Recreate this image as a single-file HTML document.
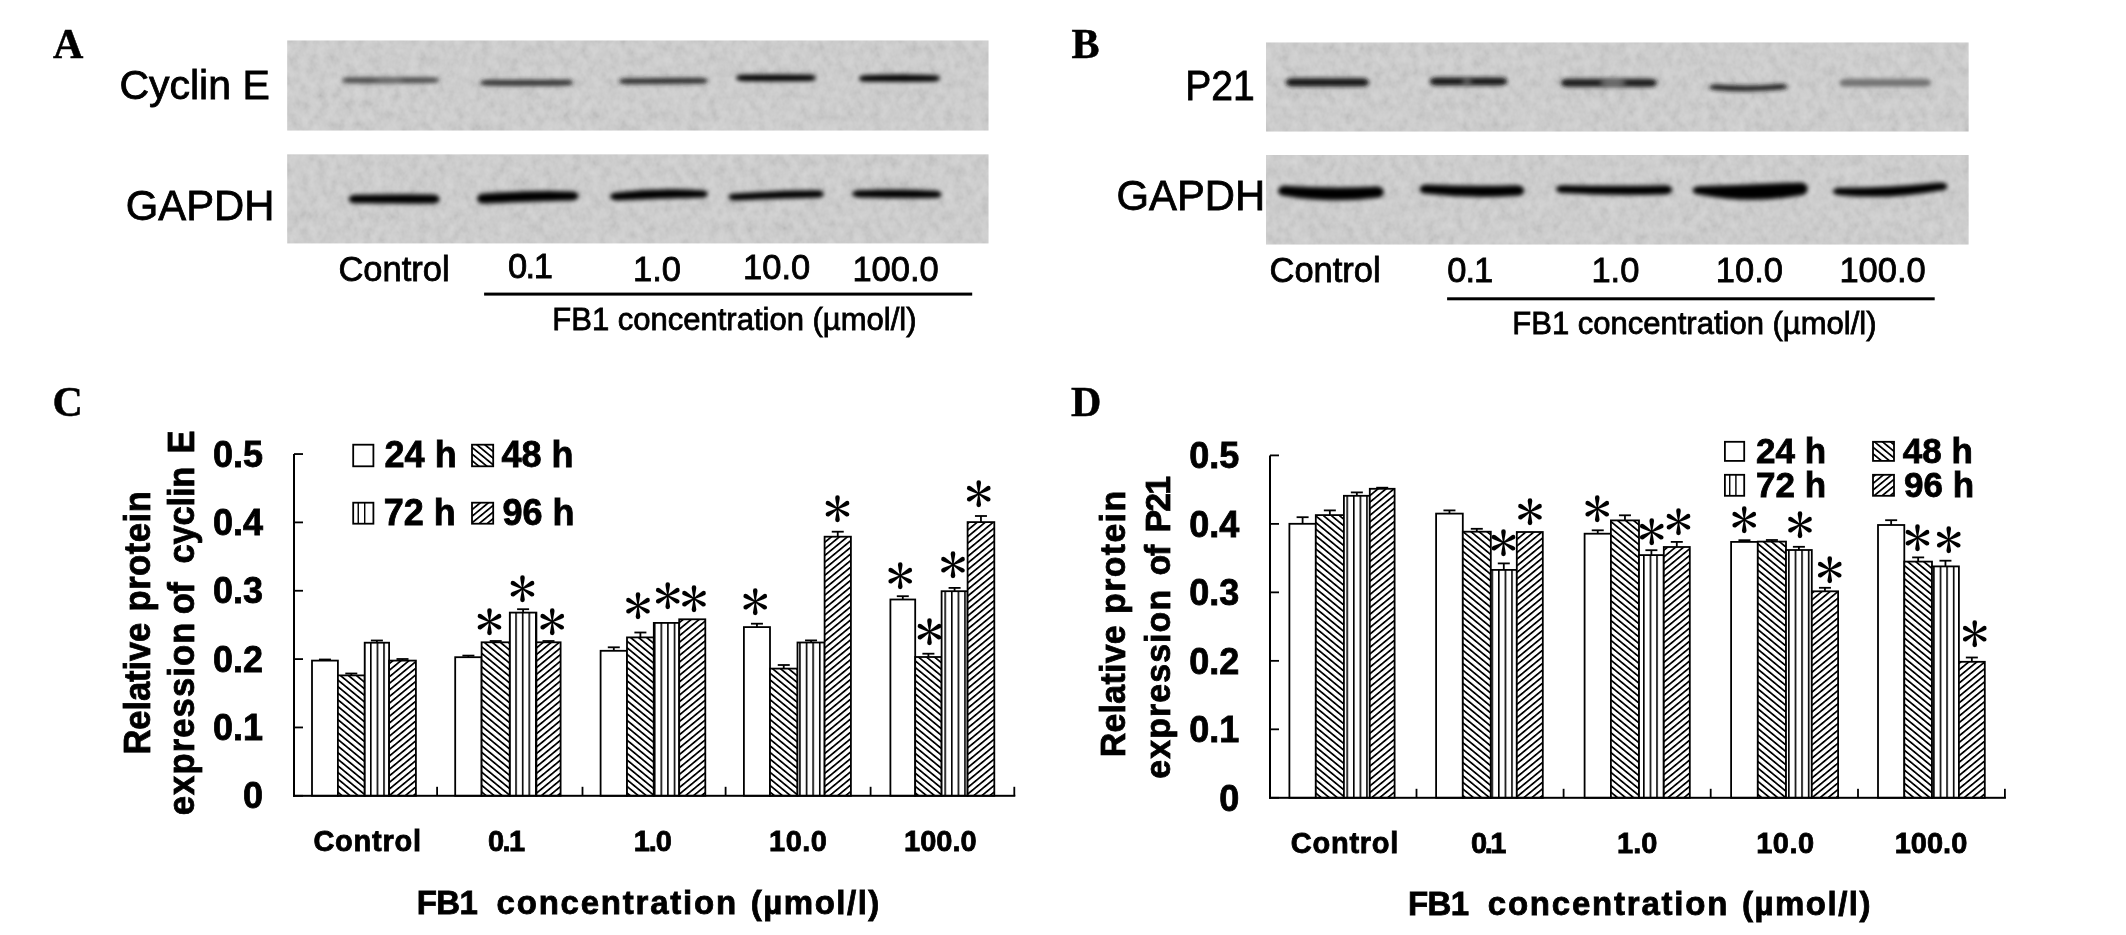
<!DOCTYPE html><html><head><meta charset="utf-8"><title>FB1 Cyclin E / P21</title>
<style>html,body{margin:0;padding:0;background:#fff;overflow:hidden;width:2126px;height:935px}svg{display:block;filter:grayscale(1)}.s{font-family:"Liberation Sans",Arial,sans-serif;stroke:#000;stroke-width:0.8px}.b{font-family:"Liberation Sans",Arial,sans-serif;font-weight:bold;stroke:#000;stroke-width:0.8px}.L{font-family:"Liberation Serif","Times New Roman",serif;font-weight:bold;font-size:42px;stroke:#000;stroke-width:0.5px}.ast{font-family:"Liberation Sans","IPAGothic",sans-serif;font-size:40px}</style></head><body>
<svg width="2126" height="935" viewBox="0 0 2126 935">
<defs>
<pattern id="pb" patternUnits="userSpaceOnUse" width="5.093" height="20" patternTransform="rotate(-50.5)"><rect x="0" y="0" width="1.75" height="20" fill="#000"/></pattern>
<pattern id="pf" patternUnits="userSpaceOnUse" width="5.093" height="20" patternTransform="rotate(50.5)"><rect x="0" y="0" width="1.75" height="20" fill="#000"/></pattern>
<pattern id="pvC" patternUnits="userSpaceOnUse" x="0.3" y="0" width="6.602" height="10"><rect x="0" y="0" width="1.6" height="10" fill="#000"/></pattern>
<pattern id="pvD" patternUnits="userSpaceOnUse" x="1.63" y="0" width="6.592" height="10"><rect x="0" y="0" width="1.6" height="10" fill="#000"/></pattern>
<filter id="bl" x="-20%" y="-100%" width="140%" height="300%"><feGaussianBlur stdDeviation="1.9"/></filter>
<filter id="bl2" x="-100%" y="-150%" width="300%" height="400%"><feGaussianBlur stdDeviation="2.5"/></filter>
<filter id="nz" x="0" y="0" width="100%" height="100%"><feTurbulence type="fractalNoise" baseFrequency="0.11 0.09" numOctaves="3" seed="7" result="t"/><feColorMatrix in="t" type="matrix" values="1 0 0 0 0  1 0 0 0 0  1 0 0 0 0  0 0 0 0 1" result="n"/><feComposite in="n" in2="SourceGraphic" operator="in"/></filter>
</defs>
<rect x="0" y="0" width="2126" height="935" fill="#fff"/>
<text class="L" x="53" y="58">A</text>
<text class="L" x="1071.4" y="58">B</text>
<text class="L" x="52.4" y="416">C</text>
<text class="L" x="1071" y="416">D</text>
<rect x="287.2" y="40.5" width="701.3" height="90.0" fill="#d0d0d0"/>
<rect x="287.2" y="40.5" width="701.3" height="90.0" fill="#000" filter="url(#nz)" opacity="0.16"/>
<path d="M349.0,77.6 Q390.5,77.2 432.0,77.6 A7,2.60 0 0 1 432.0,82.8 Q390.5,83.5 349.0,83.0 A7,2.70 0 0 1 349.0,77.6Z" fill="#444" filter="url(#bl)"/>
<path d="M487.0,80.0 Q526.5,79.8 566.0,80.0 A7,2.70 0 0 1 566.0,85.4 Q526.5,86.1 487.0,85.6 A7,2.80 0 0 1 487.0,80.0Z" fill="#2c2c2c" filter="url(#bl)"/>
<path d="M626.0,78.4 Q663.5,77.8 701.0,78.0 A7,2.80 0 0 1 701.0,83.6 Q663.5,84.2 626.0,84.0 A7,2.80 0 0 1 626.0,78.4Z" fill="#282828" filter="url(#bl)"/>
<path d="M743.0,74.8 Q776.0,74.4 809.0,74.8 A7,3.10 0 0 1 809.0,81.0 Q776.0,81.4 743.0,81.0 A7,3.10 0 0 1 743.0,74.8Z" fill="#000" filter="url(#bl)"/>
<path d="M866.0,75.2 Q899.5,74.0 933.0,75.2 A7,3.10 0 0 1 933.0,81.4 Q899.5,81.9 866.0,81.6 A7,3.20 0 0 1 866.0,75.2Z" fill="#000" filter="url(#bl)"/>
<rect x="287.2" y="154.4" width="701.3" height="89.0" fill="#d0d0d0"/>
<rect x="287.2" y="154.4" width="701.3" height="89.0" fill="#000" filter="url(#nz)" opacity="0.16"/>
<path d="M355.6,194.8 Q394.1,194.1 432.7,194.5 A7,4.55 0 0 1 432.7,203.6 Q394.1,203.8 355.6,203.2 A7,4.20 0 0 1 355.6,194.8Z" fill="#000" filter="url(#bl)"/>
<path d="M484.0,193.6 Q527.8,190.3 571.5,191.4 A7,4.60 0 0 1 571.5,200.6 Q527.8,201.5 484.0,203.6 A7,5.00 0 0 1 484.0,193.6Z" fill="#000" filter="url(#bl)"/>
<path d="M617.0,192.6 Q658.9,187.6 700.8,190.2 A7,3.80 0 0 1 700.8,197.8 Q658.9,198.5 617.0,200.4 A7,3.90 0 0 1 617.0,192.6Z" fill="#000" filter="url(#bl)"/>
<path d="M735.4,193.5 Q776.1,190.5 816.9,190.2 A7,3.80 0 0 1 816.9,197.8 Q776.1,198.5 735.4,200.4 A7,3.45 0 0 1 735.4,193.5Z" fill="#000" filter="url(#bl)"/>
<path d="M859.0,190.2 Q896.8,188.3 934.6,190.8 A7,3.60 0 0 1 934.6,198.0 Q896.8,198.5 859.0,197.4 A7,3.60 0 0 1 859.0,190.2Z" fill="#000" filter="url(#bl)"/>
<rect x="1266" y="42.5" width="702.6" height="89.0" fill="#d0d0d0"/>
<rect x="1266" y="42.5" width="702.6" height="89.0" fill="#000" filter="url(#nz)" opacity="0.16"/>
<path d="M1292.5,78.3 Q1327.2,78.3 1362.0,78.3 A7,4.10 0 0 1 1362.0,86.5 Q1327.2,86.5 1292.5,86.5 A7,4.10 0 0 1 1292.5,78.3Z" fill="#151515" filter="url(#bl)"/>
<path d="M1436.5,77.6 Q1468.5,77.6 1500.5,77.6 A7,3.90 0 0 1 1500.5,85.4 Q1468.5,85.4 1436.5,85.4 A7,3.90 0 0 1 1436.5,77.6Z" fill="#161616" filter="url(#bl)"/>
<path d="M1567.7,78.7 Q1608.8,78.7 1650.0,78.7 A7,4.10 0 0 1 1650.0,86.9 Q1608.8,86.9 1567.7,86.9 A7,4.10 0 0 1 1567.7,78.7Z" fill="#1a1a1a" filter="url(#bl)"/>
<path d="M1716.0,84.6 Q1748.4,87.0 1780.8,84.1 A7,2.65 0 0 1 1780.8,89.4 Q1748.4,92.7 1716.0,90.0 A7,2.70 0 0 1 1716.0,84.6Z" fill="#1a1a1a" filter="url(#bl)"/>
<path d="M1846.2,79.0 Q1885.2,79.0 1924.3,79.0 A7,3.80 0 0 1 1924.3,86.6 Q1885.2,86.6 1846.2,86.6 A7,3.80 0 0 1 1846.2,79.0Z" fill="#707070" filter="url(#bl)"/>
<ellipse cx="1467" cy="81.5" rx="5" ry="4" fill="#d0d0d0" opacity="0.35" filter="url(#bl2)"/>
<ellipse cx="1613" cy="82.8" rx="13" ry="4" fill="#d0d0d0" opacity="0.45" filter="url(#bl2)"/>
<ellipse cx="390" cy="80.3" rx="14" ry="4" fill="#d0d0d0" opacity="0.2" filter="url(#bl2)"/>
<rect x="1266" y="155" width="702.6" height="89.5" fill="#d0d0d0"/>
<rect x="1266" y="155" width="702.6" height="89.5" fill="#000" filter="url(#nz)" opacity="0.16"/>
<path d="M1285.0,185.8 Q1330.9,188.9 1376.8,186.4 A7,5.70 0 0 1 1376.8,197.8 Q1330.9,203.7 1285.0,196.0 A7,5.10 0 0 1 1285.0,185.8Z" fill="#000" filter="url(#bl)"/>
<path d="M1426.5,184.5 Q1471.9,186.7 1517.3,185.2 A7,5.25 0 0 1 1517.3,195.7 Q1471.9,199.1 1426.5,193.8 A7,4.65 0 0 1 1426.5,184.5Z" fill="#000" filter="url(#bl)"/>
<path d="M1563.0,185.2 Q1614.2,186.4 1665.3,185.2 A7,4.60 0 0 1 1665.3,194.4 Q1614.2,196.2 1563.0,193.1 A7,3.95 0 0 1 1563.0,185.2Z" fill="#000" filter="url(#bl)"/>
<path d="M1699.5,186.3 Q1750.1,184.4 1800.7,182.4 A7,6.40 0 0 1 1800.7,195.2 Q1750.1,204.8 1699.5,194.5 A7,4.10 0 0 1 1699.5,186.3Z" fill="#000" filter="url(#bl)"/>
<path d="M1839.8,187.7 Q1890.1,187.5 1940.4,182.4 A7,4.10 0 0 1 1940.4,190.6 Q1890.1,200.1 1839.8,195.2 A7,3.75 0 0 1 1839.8,187.7Z" fill="#000" filter="url(#bl)"/>
<text class="s" font-size="41" x="119.4" y="99">Cyclin E</text>
<text class="s" font-size="41.8" x="125.8" y="219.5">GAPDH</text>
<text class="s" font-size="42.3" transform="translate(1185.2,99.5) scale(0.925,1)">P21</text>
<text class="s" font-size="41.8" x="1116.6" y="209.5">GAPDH</text>
<text class="s" font-size="34.5" x="338.4" y="280.9">Control</text>
<text class="s" font-size="34.5" x="507.9" y="277.7" letter-spacing="-1.5">0.1</text>
<text class="s" font-size="34.5" x="633.1" y="280.6">1.0</text>
<text class="s" font-size="34.5" x="743.1" y="278.9">10.0</text>
<text class="s" font-size="34.5" x="852.4" y="280.9">100.0</text>
<rect x="484.1" y="292.6" width="488.1" height="3" fill="#000"/>
<text class="s" font-size="31" x="552.3" y="330.1">FB1 concentration (µmol/l)</text>
<text class="s" font-size="34.5" x="1269.5" y="282.3">Control</text>
<text class="s" font-size="34.5" x="1447.3" y="282.3" letter-spacing="-1">0.1</text>
<text class="s" font-size="34.5" x="1591.4" y="282.3">1.0</text>
<text class="s" font-size="34.5" x="1715.8" y="282.3">10.0</text>
<text class="s" font-size="34.5" x="1839.4" y="282.3">100.0</text>
<rect x="1447.1" y="297.3" width="487.6" height="3" fill="#000"/>
<text class="s" font-size="31" x="1512.3" y="333.9">FB1 concentration (µmol/l)</text>
<rect x="312.00" y="660.60" width="25.90" height="135.20" fill="#fff"/>
<rect x="312.00" y="660.60" width="25.90" height="135.20" fill="none" stroke="#000" stroke-width="1.8"/>
<line x1="324.95" y1="660.60" x2="324.95" y2="659.50" stroke="#000" stroke-width="1.8"/>
<line x1="318.95" y1="659.50" x2="330.95" y2="659.50" stroke="#000" stroke-width="1.8"/>
<rect x="337.90" y="675.40" width="26.80" height="120.40" fill="#fff"/>
<rect x="337.90" y="675.40" width="26.80" height="120.40" fill="url(#pb)"/>
<rect x="337.90" y="675.40" width="26.80" height="120.40" fill="none" stroke="#000" stroke-width="1.8"/>
<line x1="351.30" y1="675.40" x2="351.30" y2="673.50" stroke="#000" stroke-width="1.8"/>
<line x1="345.30" y1="673.50" x2="357.30" y2="673.50" stroke="#000" stroke-width="1.8"/>
<rect x="364.70" y="642.70" width="24.40" height="153.10" fill="#fff"/>
<rect x="364.70" y="642.70" width="24.40" height="153.10" fill="url(#pvC)"/>
<rect x="364.70" y="642.70" width="24.40" height="153.10" fill="none" stroke="#000" stroke-width="1.8"/>
<line x1="376.90" y1="642.70" x2="376.90" y2="640.50" stroke="#000" stroke-width="1.8"/>
<line x1="370.90" y1="640.50" x2="382.90" y2="640.50" stroke="#000" stroke-width="1.8"/>
<rect x="389.10" y="660.60" width="26.80" height="135.20" fill="#fff"/>
<rect x="389.10" y="660.60" width="26.80" height="135.20" fill="url(#pf)"/>
<rect x="389.10" y="660.60" width="26.80" height="135.20" fill="none" stroke="#000" stroke-width="1.8"/>
<line x1="402.50" y1="660.60" x2="402.50" y2="659.00" stroke="#000" stroke-width="1.8"/>
<line x1="396.50" y1="659.00" x2="408.50" y2="659.00" stroke="#000" stroke-width="1.8"/>
<rect x="455.20" y="657.20" width="26.40" height="138.60" fill="#fff"/>
<rect x="455.20" y="657.20" width="26.40" height="138.60" fill="none" stroke="#000" stroke-width="1.8"/>
<line x1="468.40" y1="657.20" x2="468.40" y2="655.60" stroke="#000" stroke-width="1.8"/>
<line x1="462.40" y1="655.60" x2="474.40" y2="655.60" stroke="#000" stroke-width="1.8"/>
<rect x="481.60" y="642.30" width="28.20" height="153.50" fill="#fff"/>
<rect x="481.60" y="642.30" width="28.20" height="153.50" fill="url(#pb)"/>
<rect x="481.60" y="642.30" width="28.20" height="153.50" fill="none" stroke="#000" stroke-width="1.8"/>
<line x1="495.70" y1="642.30" x2="495.70" y2="641.00" stroke="#000" stroke-width="1.8"/>
<line x1="489.70" y1="641.00" x2="501.70" y2="641.00" stroke="#000" stroke-width="1.8"/>
<rect x="509.80" y="612.60" width="26.60" height="183.20" fill="#fff"/>
<rect x="509.80" y="612.60" width="26.60" height="183.20" fill="url(#pvC)"/>
<rect x="509.80" y="612.60" width="26.60" height="183.20" fill="none" stroke="#000" stroke-width="1.8"/>
<line x1="523.10" y1="612.60" x2="523.10" y2="609.20" stroke="#000" stroke-width="1.8"/>
<line x1="517.10" y1="609.20" x2="529.10" y2="609.20" stroke="#000" stroke-width="1.8"/>
<rect x="536.40" y="642.30" width="24.20" height="153.50" fill="#fff"/>
<rect x="536.40" y="642.30" width="24.20" height="153.50" fill="url(#pf)"/>
<rect x="536.40" y="642.30" width="24.20" height="153.50" fill="none" stroke="#000" stroke-width="1.8"/>
<line x1="548.50" y1="642.30" x2="548.50" y2="641.00" stroke="#000" stroke-width="1.8"/>
<line x1="542.50" y1="641.00" x2="554.50" y2="641.00" stroke="#000" stroke-width="1.8"/>
<rect x="600.60" y="650.80" width="26.40" height="145.00" fill="#fff"/>
<rect x="600.60" y="650.80" width="26.40" height="145.00" fill="none" stroke="#000" stroke-width="1.8"/>
<line x1="613.80" y1="650.80" x2="613.80" y2="647.30" stroke="#000" stroke-width="1.8"/>
<line x1="607.80" y1="647.30" x2="619.80" y2="647.30" stroke="#000" stroke-width="1.8"/>
<rect x="627.00" y="637.40" width="26.80" height="158.40" fill="#fff"/>
<rect x="627.00" y="637.40" width="26.80" height="158.40" fill="url(#pb)"/>
<rect x="627.00" y="637.40" width="26.80" height="158.40" fill="none" stroke="#000" stroke-width="1.8"/>
<line x1="640.40" y1="637.40" x2="640.40" y2="632.50" stroke="#000" stroke-width="1.8"/>
<line x1="634.40" y1="632.50" x2="646.40" y2="632.50" stroke="#000" stroke-width="1.8"/>
<rect x="653.80" y="622.90" width="25.40" height="172.90" fill="#fff"/>
<rect x="653.80" y="622.90" width="25.40" height="172.90" fill="url(#pvC)"/>
<rect x="653.80" y="622.90" width="25.40" height="172.90" fill="none" stroke="#000" stroke-width="1.8"/>
<rect x="679.20" y="619.30" width="26.10" height="176.50" fill="#fff"/>
<rect x="679.20" y="619.30" width="26.10" height="176.50" fill="url(#pf)"/>
<rect x="679.20" y="619.30" width="26.10" height="176.50" fill="none" stroke="#000" stroke-width="1.8"/>
<rect x="743.90" y="627.10" width="26.10" height="168.70" fill="#fff"/>
<rect x="743.90" y="627.10" width="26.10" height="168.70" fill="none" stroke="#000" stroke-width="1.8"/>
<line x1="756.95" y1="627.10" x2="756.95" y2="623.70" stroke="#000" stroke-width="1.8"/>
<line x1="750.95" y1="623.70" x2="762.95" y2="623.70" stroke="#000" stroke-width="1.8"/>
<rect x="770.00" y="668.60" width="27.50" height="127.20" fill="#fff"/>
<rect x="770.00" y="668.60" width="27.50" height="127.20" fill="url(#pb)"/>
<rect x="770.00" y="668.60" width="27.50" height="127.20" fill="none" stroke="#000" stroke-width="1.8"/>
<line x1="783.75" y1="668.60" x2="783.75" y2="665.00" stroke="#000" stroke-width="1.8"/>
<line x1="777.75" y1="665.00" x2="789.75" y2="665.00" stroke="#000" stroke-width="1.8"/>
<rect x="797.50" y="642.50" width="27.10" height="153.30" fill="#fff"/>
<rect x="797.50" y="642.50" width="27.10" height="153.30" fill="url(#pvC)"/>
<rect x="797.50" y="642.50" width="27.10" height="153.30" fill="none" stroke="#000" stroke-width="1.8"/>
<line x1="811.05" y1="642.50" x2="811.05" y2="640.40" stroke="#000" stroke-width="1.8"/>
<line x1="805.05" y1="640.40" x2="817.05" y2="640.40" stroke="#000" stroke-width="1.8"/>
<rect x="824.60" y="536.70" width="26.30" height="259.10" fill="#fff"/>
<rect x="824.60" y="536.70" width="26.30" height="259.10" fill="url(#pf)"/>
<rect x="824.60" y="536.70" width="26.30" height="259.10" fill="none" stroke="#000" stroke-width="1.8"/>
<line x1="837.75" y1="536.70" x2="837.75" y2="531.70" stroke="#000" stroke-width="1.8"/>
<line x1="831.75" y1="531.70" x2="843.75" y2="531.70" stroke="#000" stroke-width="1.8"/>
<rect x="890.40" y="599.50" width="24.80" height="196.30" fill="#fff"/>
<rect x="890.40" y="599.50" width="24.80" height="196.30" fill="none" stroke="#000" stroke-width="1.8"/>
<line x1="902.80" y1="599.50" x2="902.80" y2="596.20" stroke="#000" stroke-width="1.8"/>
<line x1="896.80" y1="596.20" x2="908.80" y2="596.20" stroke="#000" stroke-width="1.8"/>
<rect x="915.20" y="657.00" width="26.40" height="138.80" fill="#fff"/>
<rect x="915.20" y="657.00" width="26.40" height="138.80" fill="url(#pb)"/>
<rect x="915.20" y="657.00" width="26.40" height="138.80" fill="none" stroke="#000" stroke-width="1.8"/>
<line x1="928.40" y1="657.00" x2="928.40" y2="653.70" stroke="#000" stroke-width="1.8"/>
<line x1="922.40" y1="653.70" x2="934.40" y2="653.70" stroke="#000" stroke-width="1.8"/>
<rect x="941.60" y="591.20" width="26.00" height="204.60" fill="#fff"/>
<rect x="941.60" y="591.20" width="26.00" height="204.60" fill="url(#pvC)"/>
<rect x="941.60" y="591.20" width="26.00" height="204.60" fill="none" stroke="#000" stroke-width="1.8"/>
<line x1="954.60" y1="591.20" x2="954.60" y2="587.90" stroke="#000" stroke-width="1.8"/>
<line x1="948.60" y1="587.90" x2="960.60" y2="587.90" stroke="#000" stroke-width="1.8"/>
<rect x="967.60" y="522.10" width="26.70" height="273.70" fill="#fff"/>
<rect x="967.60" y="522.10" width="26.70" height="273.70" fill="url(#pf)"/>
<rect x="967.60" y="522.10" width="26.70" height="273.70" fill="none" stroke="#000" stroke-width="1.8"/>
<line x1="980.95" y1="522.10" x2="980.95" y2="516.00" stroke="#000" stroke-width="1.8"/>
<line x1="974.95" y1="516.00" x2="986.95" y2="516.00" stroke="#000" stroke-width="1.8"/>
<rect x="293" y="454" width="2" height="342.79999999999995" fill="#000"/>
<rect x="293" y="794.8" width="722.3" height="2" fill="#000"/>
<rect x="294" y="794.90" width="9" height="1.8" fill="#000"/>
<rect x="294" y="726.55" width="9" height="1.8" fill="#000"/>
<rect x="294" y="658.20" width="9" height="1.8" fill="#000"/>
<rect x="294" y="589.85" width="9" height="1.8" fill="#000"/>
<rect x="294" y="521.50" width="9" height="1.8" fill="#000"/>
<rect x="294" y="453.15" width="9" height="1.8" fill="#000"/>
<rect x="436.20" y="786.8" width="1.8" height="9" fill="#000"/>
<rect x="581.60" y="786.8" width="1.8" height="9" fill="#000"/>
<rect x="724.70" y="786.8" width="1.8" height="9" fill="#000"/>
<rect x="869.70" y="786.8" width="1.8" height="9" fill="#000"/>
<rect x="1013.40" y="786.8" width="1.8" height="9" fill="#000"/>
<text class="ast" x="469.4" y="637.1">＊</text>
<text class="ast" x="502.6" y="604.2">＊</text>
<text class="ast" x="532.3" y="637.1">＊</text>
<text class="ast" x="618.1" y="621.1">＊</text>
<text class="ast" x="647.7" y="610.8">＊</text>
<text class="ast" x="674.0" y="614.0">＊</text>
<text class="ast" x="735.3" y="617.4">＊</text>
<text class="ast" x="817.6" y="524.4">＊</text>
<text class="ast" x="880.2" y="591.0">＊</text>
<text class="ast" x="909.4" y="647.2">＊</text>
<text class="ast" x="933.0" y="579.8">＊</text>
<text class="ast" x="958.8" y="509.1">＊</text>
<rect x="1289.40" y="523.80" width="26.40" height="274.00" fill="#fff"/>
<rect x="1289.40" y="523.80" width="26.40" height="274.00" fill="none" stroke="#000" stroke-width="1.8"/>
<line x1="1302.60" y1="523.80" x2="1302.60" y2="517.20" stroke="#000" stroke-width="1.8"/>
<line x1="1296.60" y1="517.20" x2="1308.60" y2="517.20" stroke="#000" stroke-width="1.8"/>
<rect x="1315.80" y="515.10" width="28.10" height="282.70" fill="#fff"/>
<rect x="1315.80" y="515.10" width="28.10" height="282.70" fill="url(#pb)"/>
<rect x="1315.80" y="515.10" width="28.10" height="282.70" fill="none" stroke="#000" stroke-width="1.8"/>
<line x1="1329.85" y1="515.10" x2="1329.85" y2="510.40" stroke="#000" stroke-width="1.8"/>
<line x1="1323.85" y1="510.40" x2="1335.85" y2="510.40" stroke="#000" stroke-width="1.8"/>
<rect x="1343.90" y="495.80" width="25.90" height="302.00" fill="#fff"/>
<rect x="1343.90" y="495.80" width="25.90" height="302.00" fill="url(#pvD)"/>
<rect x="1343.90" y="495.80" width="25.90" height="302.00" fill="none" stroke="#000" stroke-width="1.8"/>
<line x1="1356.85" y1="495.80" x2="1356.85" y2="492.40" stroke="#000" stroke-width="1.8"/>
<line x1="1350.85" y1="492.40" x2="1362.85" y2="492.40" stroke="#000" stroke-width="1.8"/>
<rect x="1369.80" y="488.80" width="24.80" height="309.00" fill="#fff"/>
<rect x="1369.80" y="488.80" width="24.80" height="309.00" fill="url(#pf)"/>
<rect x="1369.80" y="488.80" width="24.80" height="309.00" fill="none" stroke="#000" stroke-width="1.8"/>
<line x1="1382.20" y1="488.80" x2="1382.20" y2="487.70" stroke="#000" stroke-width="1.8"/>
<line x1="1376.20" y1="487.70" x2="1388.20" y2="487.70" stroke="#000" stroke-width="1.8"/>
<rect x="1436.10" y="513.60" width="26.70" height="284.20" fill="#fff"/>
<rect x="1436.10" y="513.60" width="26.70" height="284.20" fill="none" stroke="#000" stroke-width="1.8"/>
<line x1="1449.45" y1="513.60" x2="1449.45" y2="510.40" stroke="#000" stroke-width="1.8"/>
<line x1="1443.45" y1="510.40" x2="1455.45" y2="510.40" stroke="#000" stroke-width="1.8"/>
<rect x="1462.80" y="531.70" width="28.00" height="266.10" fill="#fff"/>
<rect x="1462.80" y="531.70" width="28.00" height="266.10" fill="url(#pb)"/>
<rect x="1462.80" y="531.70" width="28.00" height="266.10" fill="none" stroke="#000" stroke-width="1.8"/>
<line x1="1476.80" y1="531.70" x2="1476.80" y2="528.80" stroke="#000" stroke-width="1.8"/>
<line x1="1470.80" y1="528.80" x2="1482.80" y2="528.80" stroke="#000" stroke-width="1.8"/>
<rect x="1490.80" y="569.90" width="26.00" height="227.90" fill="#fff"/>
<rect x="1490.80" y="569.90" width="26.00" height="227.90" fill="url(#pvD)"/>
<rect x="1490.80" y="569.90" width="26.00" height="227.90" fill="none" stroke="#000" stroke-width="1.8"/>
<line x1="1503.80" y1="569.90" x2="1503.80" y2="563.40" stroke="#000" stroke-width="1.8"/>
<line x1="1497.80" y1="563.40" x2="1509.80" y2="563.40" stroke="#000" stroke-width="1.8"/>
<rect x="1516.80" y="532.00" width="26.00" height="265.80" fill="#fff"/>
<rect x="1516.80" y="532.00" width="26.00" height="265.80" fill="url(#pf)"/>
<rect x="1516.80" y="532.00" width="26.00" height="265.80" fill="none" stroke="#000" stroke-width="1.8"/>
<rect x="1584.60" y="533.70" width="26.30" height="264.10" fill="#fff"/>
<rect x="1584.60" y="533.70" width="26.30" height="264.10" fill="none" stroke="#000" stroke-width="1.8"/>
<line x1="1597.75" y1="533.70" x2="1597.75" y2="530.30" stroke="#000" stroke-width="1.8"/>
<line x1="1591.75" y1="530.30" x2="1603.75" y2="530.30" stroke="#000" stroke-width="1.8"/>
<rect x="1610.90" y="520.40" width="28.10" height="277.40" fill="#fff"/>
<rect x="1610.90" y="520.40" width="28.10" height="277.40" fill="url(#pb)"/>
<rect x="1610.90" y="520.40" width="28.10" height="277.40" fill="none" stroke="#000" stroke-width="1.8"/>
<line x1="1624.95" y1="520.40" x2="1624.95" y2="515.30" stroke="#000" stroke-width="1.8"/>
<line x1="1618.95" y1="515.30" x2="1630.95" y2="515.30" stroke="#000" stroke-width="1.8"/>
<rect x="1639.00" y="555.10" width="24.80" height="242.70" fill="#fff"/>
<rect x="1639.00" y="555.10" width="24.80" height="242.70" fill="url(#pvD)"/>
<rect x="1639.00" y="555.10" width="24.80" height="242.70" fill="none" stroke="#000" stroke-width="1.8"/>
<line x1="1651.40" y1="555.10" x2="1651.40" y2="550.20" stroke="#000" stroke-width="1.8"/>
<line x1="1645.40" y1="550.20" x2="1657.40" y2="550.20" stroke="#000" stroke-width="1.8"/>
<rect x="1663.80" y="547.00" width="26.00" height="250.80" fill="#fff"/>
<rect x="1663.80" y="547.00" width="26.00" height="250.80" fill="url(#pf)"/>
<rect x="1663.80" y="547.00" width="26.00" height="250.80" fill="none" stroke="#000" stroke-width="1.8"/>
<line x1="1676.80" y1="547.00" x2="1676.80" y2="541.90" stroke="#000" stroke-width="1.8"/>
<line x1="1670.80" y1="541.90" x2="1682.80" y2="541.90" stroke="#000" stroke-width="1.8"/>
<rect x="1731.10" y="541.90" width="26.70" height="255.90" fill="#fff"/>
<rect x="1731.10" y="541.90" width="26.70" height="255.90" fill="none" stroke="#000" stroke-width="1.8"/>
<line x1="1744.45" y1="541.90" x2="1744.45" y2="540.20" stroke="#000" stroke-width="1.8"/>
<line x1="1738.45" y1="540.20" x2="1750.45" y2="540.20" stroke="#000" stroke-width="1.8"/>
<rect x="1757.80" y="541.60" width="28.20" height="256.20" fill="#fff"/>
<rect x="1757.80" y="541.60" width="28.20" height="256.20" fill="url(#pb)"/>
<rect x="1757.80" y="541.60" width="28.20" height="256.20" fill="none" stroke="#000" stroke-width="1.8"/>
<line x1="1771.90" y1="541.60" x2="1771.90" y2="540.00" stroke="#000" stroke-width="1.8"/>
<line x1="1765.90" y1="540.00" x2="1777.90" y2="540.00" stroke="#000" stroke-width="1.8"/>
<rect x="1786.00" y="550.00" width="25.80" height="247.80" fill="#fff"/>
<rect x="1786.00" y="550.00" width="25.80" height="247.80" fill="url(#pvD)"/>
<rect x="1786.00" y="550.00" width="25.80" height="247.80" fill="none" stroke="#000" stroke-width="1.8"/>
<line x1="1798.90" y1="550.00" x2="1798.90" y2="546.80" stroke="#000" stroke-width="1.8"/>
<line x1="1792.90" y1="546.80" x2="1804.90" y2="546.80" stroke="#000" stroke-width="1.8"/>
<rect x="1811.80" y="591.30" width="26.30" height="206.50" fill="#fff"/>
<rect x="1811.80" y="591.30" width="26.30" height="206.50" fill="url(#pf)"/>
<rect x="1811.80" y="591.30" width="26.30" height="206.50" fill="none" stroke="#000" stroke-width="1.8"/>
<line x1="1824.95" y1="591.30" x2="1824.95" y2="587.80" stroke="#000" stroke-width="1.8"/>
<line x1="1818.95" y1="587.80" x2="1830.95" y2="587.80" stroke="#000" stroke-width="1.8"/>
<rect x="1878.00" y="525.00" width="26.30" height="272.80" fill="#fff"/>
<rect x="1878.00" y="525.00" width="26.30" height="272.80" fill="none" stroke="#000" stroke-width="1.8"/>
<line x1="1891.15" y1="525.00" x2="1891.15" y2="520.20" stroke="#000" stroke-width="1.8"/>
<line x1="1885.15" y1="520.20" x2="1897.15" y2="520.20" stroke="#000" stroke-width="1.8"/>
<rect x="1904.30" y="561.60" width="27.70" height="236.20" fill="#fff"/>
<rect x="1904.30" y="561.60" width="27.70" height="236.20" fill="url(#pb)"/>
<rect x="1904.30" y="561.60" width="27.70" height="236.20" fill="none" stroke="#000" stroke-width="1.8"/>
<line x1="1918.15" y1="561.60" x2="1918.15" y2="557.40" stroke="#000" stroke-width="1.8"/>
<line x1="1912.15" y1="557.40" x2="1924.15" y2="557.40" stroke="#000" stroke-width="1.8"/>
<rect x="1932.00" y="566.40" width="26.90" height="231.40" fill="#fff"/>
<rect x="1932.00" y="566.40" width="26.90" height="231.40" fill="url(#pvD)"/>
<rect x="1932.00" y="566.40" width="26.90" height="231.40" fill="none" stroke="#000" stroke-width="1.8"/>
<line x1="1945.45" y1="566.40" x2="1945.45" y2="560.70" stroke="#000" stroke-width="1.8"/>
<line x1="1939.45" y1="560.70" x2="1951.45" y2="560.70" stroke="#000" stroke-width="1.8"/>
<rect x="1958.90" y="661.80" width="25.90" height="136.00" fill="#fff"/>
<rect x="1958.90" y="661.80" width="25.90" height="136.00" fill="url(#pf)"/>
<rect x="1958.90" y="661.80" width="25.90" height="136.00" fill="none" stroke="#000" stroke-width="1.8"/>
<line x1="1971.85" y1="661.80" x2="1971.85" y2="657.50" stroke="#000" stroke-width="1.8"/>
<line x1="1965.85" y1="657.50" x2="1977.85" y2="657.50" stroke="#000" stroke-width="1.8"/>
<rect x="1269" y="455.5" width="2" height="343.29999999999995" fill="#000"/>
<rect x="1269" y="796.8" width="736.9000000000001" height="2" fill="#000"/>
<rect x="1270" y="796.90" width="9" height="1.8" fill="#000"/>
<rect x="1270" y="728.42" width="9" height="1.8" fill="#000"/>
<rect x="1270" y="659.94" width="9" height="1.8" fill="#000"/>
<rect x="1270" y="591.46" width="9" height="1.8" fill="#000"/>
<rect x="1270" y="522.98" width="9" height="1.8" fill="#000"/>
<rect x="1270" y="454.50" width="9" height="1.8" fill="#000"/>
<rect x="1415.60" y="788.8" width="1.8" height="9" fill="#000"/>
<rect x="1562.70" y="788.8" width="1.8" height="9" fill="#000"/>
<rect x="1709.80" y="788.8" width="1.8" height="9" fill="#000"/>
<rect x="1857.10" y="788.8" width="1.8" height="9" fill="#000"/>
<rect x="2004.00" y="788.8" width="1.8" height="9" fill="#000"/>
<text class="ast" x="1483.6" y="558.4">＊</text>
<text class="ast" x="1510.0" y="527.0">＊</text>
<text class="ast" x="1577.2" y="523.5">＊</text>
<text class="ast" x="1631.8" y="546.6">＊</text>
<text class="ast" x="1658.5" y="536.8">＊</text>
<text class="ast" x="1724.2" y="535.1">＊</text>
<text class="ast" x="1780.1" y="540.0">＊</text>
<text class="ast" x="1809.7" y="584.5">＊</text>
<text class="ast" x="1897.4" y="553.1">＊</text>
<text class="ast" x="1928.8" y="555.0">＊</text>
<text class="ast" x="1954.8" y="649.4">＊</text>
<text class="b" font-size="36" text-anchor="end" x="263" y="808.3">0</text>
<text class="b" font-size="36" text-anchor="end" x="1239.3" y="810.6">0</text>
<text class="b" font-size="36" text-anchor="end" x="263" y="739.9">0.1</text>
<text class="b" font-size="36" text-anchor="end" x="1239.3" y="742.1">0.1</text>
<text class="b" font-size="36" text-anchor="end" x="263" y="671.6">0.2</text>
<text class="b" font-size="36" text-anchor="end" x="1239.3" y="673.6">0.2</text>
<text class="b" font-size="36" text-anchor="end" x="263" y="603.2">0.3</text>
<text class="b" font-size="36" text-anchor="end" x="1239.3" y="605.2">0.3</text>
<text class="b" font-size="36" text-anchor="end" x="263" y="534.9">0.4</text>
<text class="b" font-size="36" text-anchor="end" x="1239.3" y="536.7">0.4</text>
<text class="b" font-size="36" text-anchor="end" x="263" y="466.5">0.5</text>
<text class="b" font-size="36" text-anchor="end" x="1239.3" y="468.2">0.5</text>
<text class="b" font-size="29" x="313.4" y="851" letter-spacing="0.75">Control</text>
<text class="b" font-size="29" x="487.9" y="851" letter-spacing="-1.5">0.1</text>
<text class="b" font-size="29" x="633.7" y="851" letter-spacing="-1">1.0</text>
<text class="b" font-size="29" x="769" y="851" letter-spacing="0.5">10.0</text>
<text class="b" font-size="29" x="904" y="851" letter-spacing="0">100.0</text>
<text class="b" font-size="29" x="1290.8" y="852.5" letter-spacing="0.75">Control</text>
<text class="b" font-size="29" x="1471" y="852.5" letter-spacing="-2.5">0.1</text>
<text class="b" font-size="29" x="1617" y="852.5" letter-spacing="0">1.0</text>
<text class="b" font-size="29" x="1756.2" y="852.5" letter-spacing="0.5">10.0</text>
<text class="b" font-size="29" x="1894.7" y="852.5" letter-spacing="0">100.0</text>
<text class="b" font-size="33" y="913.5"><tspan x="416.8" letter-spacing="-0.6">FB1</tspan> <tspan x="496.6" letter-spacing="1.78">concentration</tspan> <tspan x="750.8" letter-spacing="1.5">(µmol/l)</tspan></text>
<text class="b" font-size="33" y="914.7"><tspan x="1408" letter-spacing="-0.6">FB1</tspan> <tspan x="1487.8" letter-spacing="1.78">concentration</tspan> <tspan x="1742" letter-spacing="1.5">(µmol/l)</tspan></text>
<text class="b" font-size="36.8" transform="translate(149.7,753) rotate(-90) scale(0.94,1)"><tspan x="-1.60" letter-spacing="-0.12">Relative</tspan> <tspan x="150.53" letter-spacing="0.55">protein</tspan></text>
<text class="b" font-size="36.8" transform="translate(194,814.8) rotate(-90) scale(0.94,1)"><tspan x="-0.60" letter-spacing="1.21">expression</tspan> <tspan x="213.23" letter-spacing="-0.54">of</tspan> <tspan x="267.38" letter-spacing="-0.25">cyclin</tspan> <tspan x="384.36" letter-spacing="0.00">E</tspan></text>
<text class="b" font-size="36" transform="translate(1125.3,755.8) rotate(-90) scale(0.94,1)"><tspan x="-1.60" letter-spacing="0.34">Relative</tspan> <tspan x="150.95" letter-spacing="1.48">protein</tspan></text>
<text class="b" font-size="36" transform="translate(1169.6,778.2) rotate(-90) scale(0.94,1)"><tspan x="-0.60" letter-spacing="1.21">expression</tspan> <tspan x="215.57" letter-spacing="-1.25">of</tspan> <tspan x="261.38" letter-spacing="-1.96">P21</tspan></text>
<rect x="353.2" y="444.7" width="20.2" height="21.6" fill="#fff"/>
<rect x="353.2" y="444.7" width="20.2" height="21.6" fill="none" stroke="#000" stroke-width="1.8"/>
<rect x="472" y="444.7" width="21.2" height="21.6" fill="#fff"/>
<rect x="472" y="444.7" width="21.2" height="21.6" fill="url(#pb)"/>
<rect x="472" y="444.7" width="21.2" height="21.6" fill="none" stroke="#000" stroke-width="1.8"/>
<rect x="353.2" y="502.7" width="20.2" height="21" fill="#fff"/>
<rect x="357.55" y="502.7" width="1.4" height="21" fill="#000"/>
<rect x="364.01" y="502.7" width="1.4" height="21" fill="#000"/>
<rect x="353.2" y="502.7" width="20.2" height="21" fill="none" stroke="#000" stroke-width="1.8"/>
<rect x="472" y="502.7" width="21.2" height="21" fill="#fff"/>
<rect x="472" y="502.7" width="21.2" height="21" fill="url(#pf)"/>
<rect x="472" y="502.7" width="21.2" height="21" fill="none" stroke="#000" stroke-width="1.8"/>
<text class="b" font-size="36" x="384.6" y="467.1">24 h</text>
<text class="b" font-size="36" x="501.4" y="467.1">48 h</text>
<text class="b" font-size="36" x="383.8" y="524.7">72 h</text>
<text class="b" font-size="36" x="502.5" y="524.7">96 h</text>
<rect x="1724.9" y="441.8" width="19.3" height="19.1" fill="#fff"/>
<rect x="1724.9" y="441.8" width="19.3" height="19.1" fill="none" stroke="#000" stroke-width="1.8"/>
<rect x="1873" y="441.8" width="21" height="19.1" fill="#fff"/>
<rect x="1873" y="441.8" width="21" height="19.1" fill="url(#pb)"/>
<rect x="1873" y="441.8" width="21" height="19.1" fill="none" stroke="#000" stroke-width="1.8"/>
<rect x="1724.9" y="474.8" width="19.3" height="21" fill="#fff"/>
<rect x="1729.03" y="474.8" width="1.4" height="21" fill="#000"/>
<rect x="1735.20" y="474.8" width="1.4" height="21" fill="#000"/>
<rect x="1724.9" y="474.8" width="19.3" height="21" fill="none" stroke="#000" stroke-width="1.8"/>
<rect x="1873" y="474.8" width="21" height="21" fill="#fff"/>
<rect x="1873" y="474.8" width="21" height="21" fill="url(#pf)"/>
<rect x="1873" y="474.8" width="21" height="21" fill="none" stroke="#000" stroke-width="1.8"/>
<text class="b" font-size="35" x="1756" y="463.4">24 h</text>
<text class="b" font-size="35" x="1902.8" y="463.4">48 h</text>
<text class="b" font-size="35" x="1756" y="496.6">72 h</text>
<text class="b" font-size="35" x="1904.1" y="496.6">96 h</text>
</svg></body></html>
